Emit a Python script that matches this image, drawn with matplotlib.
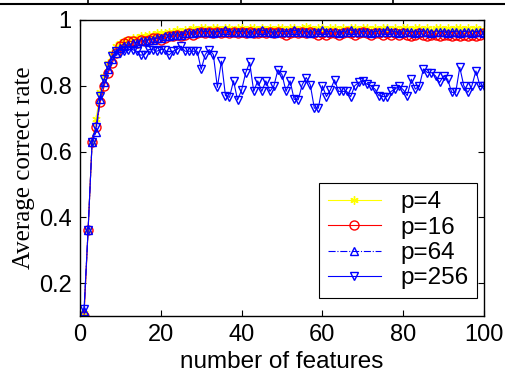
import numpy as np
import matplotlib.pyplot as plt
from matplotlib.lines import Line2D

# number of features on the x axis
features = list(range(1, 101))

acc_p4 = [0.11, 0.36, 0.63, 0.70, 0.78, 0.83, 0.87, 0.90, 0.92, 0.93,
          0.935, 0.94, 0.945, 0.945, 0.95, 0.95, 0.955, 0.955, 0.96, 0.96,
          0.96, 0.965, 0.965, 0.97, 0.965, 0.97, 0.97, 0.975, 0.97, 0.975,
          0.975, 0.97, 0.975, 0.975, 0.97, 0.975, 0.975, 0.97, 0.975, 0.975,
          0.97, 0.975, 0.975, 0.97, 0.975, 0.97, 0.975, 0.97, 0.975, 0.975,
          0.97, 0.975, 0.975, 0.97, 0.975, 0.98, 0.975, 0.97, 0.975, 0.975,
          0.97, 0.975, 0.975, 0.97, 0.975, 0.97, 0.975, 0.975, 0.97, 0.975,
          0.975, 0.97, 0.975, 0.97, 0.975, 0.975, 0.97, 0.975, 0.97, 0.975,
          0.975, 0.97, 0.975, 0.975, 0.97, 0.975, 0.97, 0.975, 0.975, 0.97,
          0.975, 0.97, 0.975, 0.975, 0.97, 0.975, 0.97, 0.975, 0.97, 0.97]

acc_p16 = [0.10, 0.36, 0.63, 0.675, 0.75, 0.80, 0.84, 0.87, 0.90, 0.92,
           0.93, 0.935, 0.935, 0.93, 0.94, 0.935, 0.94, 0.945, 0.945, 0.94,
           0.945, 0.95, 0.95, 0.955, 0.95, 0.955, 0.96, 0.955, 0.96, 0.965,
           0.96, 0.965, 0.96, 0.965, 0.96, 0.965, 0.96, 0.965, 0.96, 0.965,
           0.96, 0.965, 0.96, 0.96, 0.965, 0.96, 0.965, 0.96, 0.965, 0.96,
           0.955, 0.96, 0.965, 0.96, 0.965, 0.96, 0.965, 0.96, 0.955, 0.96,
           0.955, 0.96, 0.96, 0.955, 0.96, 0.965, 0.96, 0.955, 0.96, 0.965,
           0.96, 0.955, 0.96, 0.96, 0.955, 0.96, 0.955, 0.96, 0.955, 0.96,
           0.955, 0.95, 0.955, 0.96, 0.955, 0.95, 0.955, 0.955, 0.95, 0.955,
           0.955, 0.95, 0.955, 0.95, 0.955, 0.95, 0.955, 0.95, 0.955, 0.96]

acc_p64 = [0.115, 0.36, 0.63, 0.66, 0.76, 0.81, 0.85, 0.88, 0.90, 0.915,
           0.92, 0.925, 0.93, 0.93, 0.935, 0.935, 0.94, 0.94, 0.945, 0.945,
           0.95, 0.95, 0.955, 0.955, 0.955, 0.96, 0.96, 0.96, 0.965, 0.965,
           0.965, 0.965, 0.96, 0.965, 0.965, 0.97, 0.965, 0.965, 0.965, 0.965,
           0.965, 0.96, 0.965, 0.965, 0.97, 0.965, 0.965, 0.96, 0.965, 0.965,
           0.965, 0.965, 0.97, 0.965, 0.965, 0.965, 0.96, 0.965, 0.965, 0.97,
           0.965, 0.965, 0.965, 0.96, 0.965, 0.965, 0.97, 0.965, 0.965, 0.965,
           0.965, 0.96, 0.965, 0.965, 0.965, 0.97, 0.965, 0.965, 0.96, 0.965,
           0.965, 0.965, 0.96, 0.965, 0.965, 0.965, 0.96, 0.965, 0.965, 0.965,
           0.96, 0.965, 0.965, 0.96, 0.965, 0.965, 0.96, 0.965, 0.965, 0.96]

acc_p256 = [0.12, 0.36, 0.63, 0.675, 0.77, 0.82, 0.86, 0.89, 0.905, 0.90,
            0.905, 0.91, 0.91, 0.905, 0.893, 0.895, 0.91, 0.91, 0.905, 0.91,
            0.91, 0.893, 0.905, 0.91, 0.92, 0.905, 0.905, 0.905, 0.905, 0.85,
            0.895, 0.91, 0.895, 0.795, 0.875, 0.77, 0.765, 0.815, 0.757, 0.787,
            0.839, 0.871, 0.783, 0.815, 0.783, 0.815, 0.783, 0.80, 0.849, 0.834,
            0.783, 0.815, 0.759, 0.757, 0.803, 0.825, 0.803, 0.732, 0.732, 0.80,
            0.767, 0.788, 0.818, 0.783, 0.783, 0.783, 0.767, 0.80, 0.81, 0.815,
            0.805, 0.80, 0.79, 0.77, 0.767, 0.767, 0.783, 0.79, 0.80, 0.788,
            0.77, 0.82, 0.79, 0.80, 0.851, 0.84, 0.84, 0.83, 0.81, 0.83,
            0.82, 0.78, 0.78, 0.856, 0.80, 0.78, 0.80, 0.845, 0.80, 0.798]

labels = ['p=4', 'p=16', 'p=64', 'p=256']
yticks = [0.2, 0.4, 0.6, 0.8, 1.0]
ytick_labels = ['0.2', '0.4', '0.6', '0.8', '1']

plt.rcParams['font.family'] = ['Liberation Sans', 'DejaVu Sans']

fig = plt.figure(figsize=(5.06, 3.75), dpi=100)
ax = fig.add_axes([80 / 506, (375 - 316) / 375, 404 / 506, 296 / 375])

ax.plot(features, acc_p4, color='yellow', marker=(6, 2, 0), markersize=6,
        linewidth=0.8, label=labels[0])
ax.plot(features, acc_p16, color='red', marker='o', markersize=6.5, mfc='none',
        linewidth=0.8, label=labels[1])
ax.plot(features, acc_p64, color='blue', marker='^', markersize=5.5, mfc='none',
        linestyle='-.', linewidth=0.8, label=labels[2])
ax.plot(features, acc_p256, color='blue', marker='v', markersize=6, mfc='none',
        linewidth=0.8, label=labels[3])

ax.set_xlim(0, 100)
ax.set_ylim(0.1, 1.0)
ax.set_xticks([0, 20, 40, 60, 80, 100])
ax.set_yticks(yticks)
ax.set_yticklabels(ytick_labels)
ax.tick_params(direction='in', top=True, right=True, length=4, width=0.8,
               labelsize=17, pad=6)
for s in ax.spines.values():
    s.set_linewidth(1.0)

ax.set_xlabel('number of features', fontsize=17.5, labelpad=3)
ax.set_ylabel('Average correct rate', fontsize=18, family='Liberation Serif', labelpad=3)

leg = ax.legend(loc='lower right', bbox_to_anchor=(0.983, 0.061), borderaxespad=0,
                fontsize=17.5, fancybox=False, framealpha=1, edgecolor='black',
                handlelength=2.2, handletextpad=0.8, labelspacing=0.14,
                borderpad=0.35)
leg.get_frame().set_linewidth(0.8)

# border strip of the surrounding table at the top of the image
fig.add_artist(Line2D([0, 1], [1 - 3.5 / 375, 1 - 3.5 / 375], color='black', linewidth=1.5))
for xp in [88, 241, 393]:
    fig.add_artist(Line2D([xp / 506, xp / 506], [1 - 3.5 / 375, 1], color='black', linewidth=1.2))

fig.savefig('out.png', dpi=100)
